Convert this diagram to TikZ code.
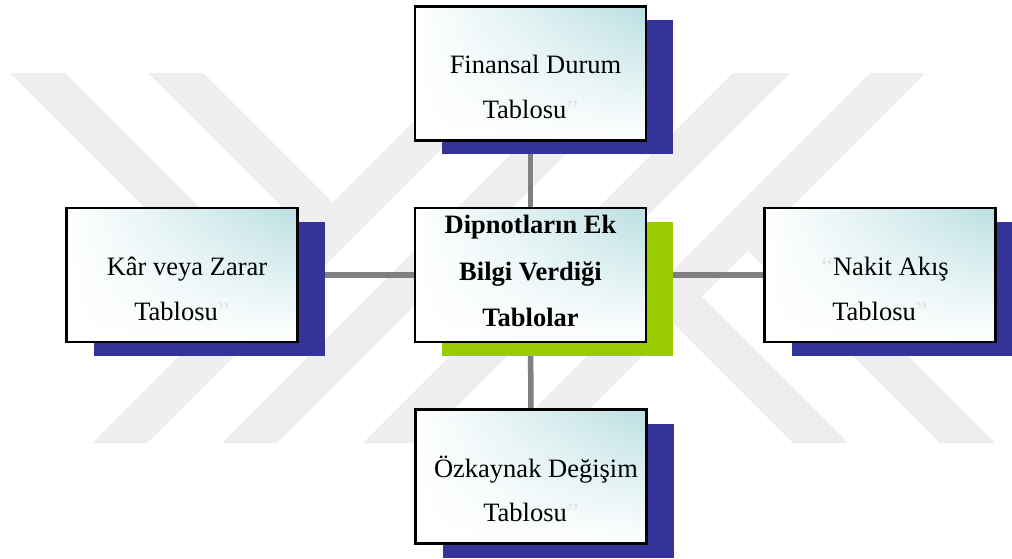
\documentclass[tikz,border=0pt]{standalone}
\usepackage{fontspec}
\setmainfont{Liberation Serif}
\usetikzlibrary{shadows,shadings}

\definecolor{panelteal}{RGB}{186,223,226}
\definecolor{shadeblue}{RGB}{51,51,153}
\definecolor{shadegreen}{RGB}{153,204,0}
\definecolor{linkgray}{RGB}{128,128,128}
\definecolor{markgray}{RGB}{238,238,238}
\definecolor{quotegray}{RGB}{228,228,228}

\pgfdeclarelayer{watermark}
\pgfdeclarelayer{links}
\pgfsetlayers{watermark,links,main}

\tikzset{
  panel/.style={draw=black, line width=2.4pt, inner sep=0pt,
    minimum width=231pt, minimum height=134pt,
    upper right=panelteal, upper left=white, lower left=white, lower right=white,
    drop shadow={shadow xshift=27pt, shadow yshift=-14pt, fill=#1, opacity=1}},
  caption/.style={anchor=base, inner sep=0pt, font=\fontsize{26.5}{30}\selectfont},
  boldcaption/.style={caption, font=\fontsize{26.5}{30}\selectfont\bfseries},
  link/.style={draw=linkgray, line width=5.5pt},
  emblem/.style={fill=markgray},
}
\newcommand{\cq}{\textcolor{quotegray}{”}}
\newcommand{\oq}{\textcolor{quotegray}{“}}

\begin{document}
\begin{tikzpicture}[x=1pt, y=-1pt]
  \useasboundingbox (0,0) rectangle (1012,559);

  % page ground and faint background emblem
  \begin{pgfonlayer}{watermark}
    \fill[white] (0,0) rectangle (1012,559);
    % rising bands
    \fill[emblem] (92,443)  -- (147,443) -- (517,73) -- (462,73) -- cycle;
    \fill[emblem] (222,443) -- (277,443) -- (647,73) -- (592,73) -- cycle;
    \fill[emblem] (363,443) -- (420,443) -- (790,73) -- (733,73) -- cycle;
    \fill[emblem] (500,443) -- (555,443) -- (925,73) -- (870,73) -- cycle;
    % falling bands
    \fill[emblem] (10,73)   -- (65,73)   -- (282,290) -- (227,290) -- cycle;
    \fill[emblem] (148,73)  -- (203,73)  -- (332.5,202.5) -- (305,230) -- cycle;
    \fill[emblem] (793,443) -- (848,443) -- (674,269) -- (646.5,296.5) -- cycle;
    \fill[emblem] (940,443) -- (995,443) -- (775,223) -- (747.5,250.5) -- cycle;
  \end{pgfonlayer}

  % panels
  \node[panel=shadeblue]  (fin)  at (530.5,73.5) {};
  \node[panel=shadeblue]  (kar)  at (182,275)    {};
  \node[panel=shadegreen] (hub)  at (530.5,275)  {};
  \node[panel=shadeblue]  (nak)  at (880,275)    {};
  \node[panel=shadeblue]  (ozk)  at (531,476.5)  {};

  % connectors behind the panels
  \begin{pgfonlayer}{links}
    \draw[link] (hub.center) -- (fin.center);
    \draw[link] (hub.center) -- (ozk.center);
    \draw[link] (hub.center) -- (kar.center);
    \draw[link] (hub.center) -- (nak.center);
  \end{pgfonlayer}

  % panel texts
  \node[caption] (finA) at ([xshift=5pt]fin.center) {Finansal Durum};
  \node[caption] (finB) at ([yshift=-45pt]fin.center) {Tablosu\cq};

  \node[caption] (karA) at ([xshift=5pt]kar.center) {Kâr veya Zarar};
  \node[caption] (karB) at ([yshift=-45pt]kar.center) {Tablosu\cq};

  \node[caption] (nakA) at ([xshift=5pt]nak.center) {\oq Nakit Akış};
  \node[caption] (nakB) at ([yshift=-45pt]nak.center) {Tablosu\cq};

  \node[caption] (ozkA) at ([xshift=5pt,yshift=-0.5pt]ozk.center) {Özkaynak Değişim};
  \node[caption] (ozkB) at ([yshift=-44.5pt]ozk.center) {Tablosu\cq};

  \node[boldcaption] (hubA) at ([yshift=42pt]hub.center) {Dipnotların Ek};
  \node[boldcaption] (hubB) at ([yshift=-5pt]hub.center) {Bilgi Verdiği};
  \node[boldcaption] (hubC) at ([yshift=-51pt]hub.center) {Tablolar};
\end{tikzpicture}
\end{document}
